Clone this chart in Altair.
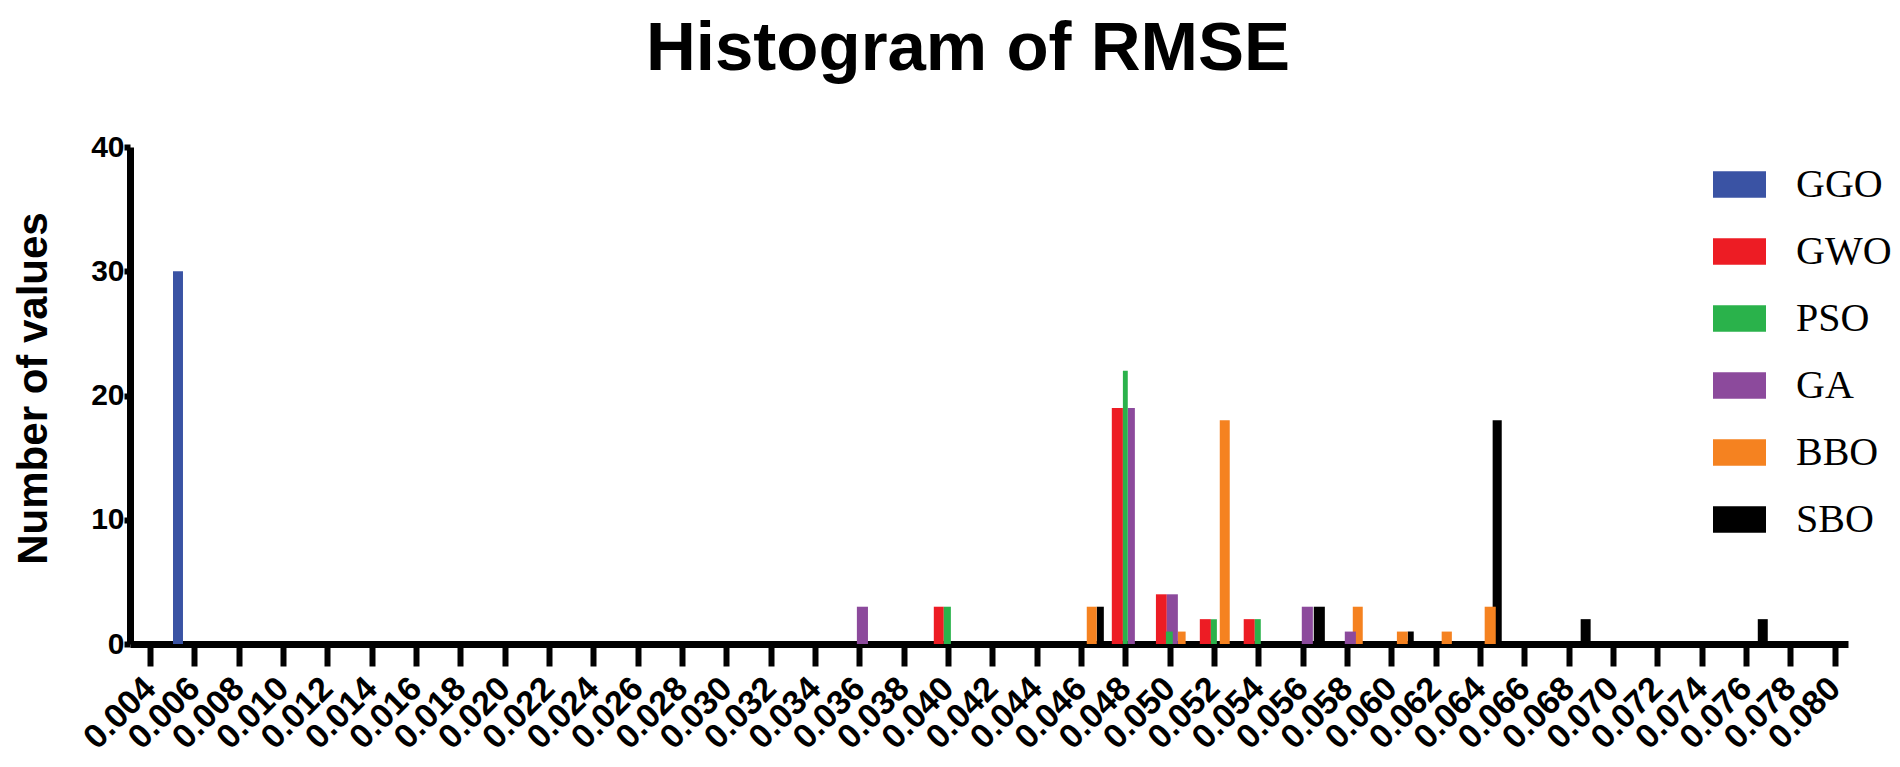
import altair as alt
import pandas as pd

# Series (legend order) and colours
series_names = ["GGO", "GWO", "PSO", "GA", "BBO", "SBO"]
series_colors = ["#3A53A4", "#ED1C24", "#2AB24B", "#8C4A9C", "#F58220", "#000000"]
# drawing order (later drawn on top)
draw_rank = {"GGO": 0, "GWO": 1, "SBO": 2, "BBO": 3, "GA": 4, "PSO": 5}

# Histogram bars: series, bin start, bin end, count
bar_series = ["GGO",
              "GA", "GWO", "PSO",
              "BBO", "SBO", "GWO", "PSO", "GA",
              "GWO", "PSO", "GA", "BBO",
              "GWO", "PSO", "BBO",
              "GWO", "PSO",
              "GA", "SBO",
              "GA", "BBO",
              "BBO", "SBO",
              "BBO",
              "BBO", "SBO",
              "SBO", "SBO"]
bin_start = [0.00504,
             0.03589, 0.03936, 0.03981,
             0.04626, 0.04671, 0.04739, 0.04789, 0.04811,
             0.04938, 0.04983, 0.04987, 0.05037,
             0.05136, 0.05186, 0.05226,
             0.05334, 0.05384,
             0.05596, 0.05650,
             0.05790, 0.05826,
             0.06025, 0.06074,
             0.06227,
             0.06421, 0.06457,
             0.06854, 0.07653]
bin_end = [0.00549,
           0.03639, 0.03981, 0.04013,
           0.04671, 0.04703, 0.04789, 0.04811, 0.04843,
           0.04987, 0.05014, 0.05037, 0.05072,
           0.05186, 0.05213, 0.05271,
           0.05384, 0.05411,
           0.05646, 0.05700,
           0.05840, 0.05871,
           0.06074, 0.06101,
           0.06273,
           0.06471, 0.06498,
           0.06899, 0.07698]
counts = [30,
          3, 3, 3,
          3, 3, 19, 22, 19,
          4, 1, 4, 1,
          2, 2, 18,
          2, 2,
          3, 3,
          1, 3,
          1, 1,
          1,
          3, 18,
          2, 2]

x_ticks = [0.004, 0.006, 0.008, 0.010, 0.012, 0.014, 0.016, 0.018, 0.020,
           0.022, 0.024, 0.026, 0.028, 0.030, 0.032, 0.034, 0.036, 0.038,
           0.040, 0.042, 0.044, 0.046, 0.048, 0.050, 0.052, 0.054, 0.056,
           0.058, 0.060, 0.062, 0.064, 0.066, 0.068, 0.070, 0.072, 0.074,
           0.076, 0.078, 0.080]
y_ticks = [0, 10, 20, 30, 40]

df = pd.DataFrame({
    "series": bar_series,
    "start": bin_start,
    "end": bin_end,
    "count": counts,
})
df["z"] = df["series"].map(draw_rank)

bars = alt.Chart(df).mark_bar(strokeWidth=0, opacity=1).encode(
    x=alt.X("start:Q",
            scale=alt.Scale(domain=[0.0031, 0.0806], nice=False, zero=False),
            axis=alt.Axis(values=x_ticks, format=".3f", title=None,
                          labelAngle=-45, labelAlign="right", labelBaseline="middle",
                          labelFont="Liberation Sans", labelFontWeight="bold",
                          labelFontSize=34, labelColor="black", labelPadding=17,
                          labelOverlap=False, labelFlush=False,
                          domainColor="black", domainWidth=7,
                          tickColor="black", tickWidth=6, tickSize=22,
                          grid=False)),
    x2="end:Q",
    y=alt.Y("count:Q", stack=None,
            scale=alt.Scale(domain=[0, 40], nice=False),
            axis=alt.Axis(values=y_ticks, title="Number of values",
                          titleFont="Liberation Sans", titleFontWeight="bold",
                          titleFontSize=42, titleColor="black",
                          titleAngle=-90, titleX=-84, titleY=241,
                          titleAlign="center", titleBaseline="alphabetic",
                          labelFont="Liberation Sans Narrow, Liberation Sans",
                          labelFontWeight="bold",
                          labelFontSize=30, labelColor="black", labelPadding=0,
                          domainColor="black", domainWidth=7,
                          tickColor="black", tickWidth=6, tickSize=6,
                          grid=False)),
    y2=alt.datum(0),
    color=alt.Color("series:N",
                    scale=alt.Scale(domain=series_names, range=series_colors),
                    legend=alt.Legend(title=None, orient="none",
                                      legendX=1583, legendY=11,
                                      symbolType="M-1,-0.5H1V0.5H-1Z",
                                      symbolSize=2809, symbolStrokeWidth=0,
                                      symbolOpacity=1,
                                      labelFont="Liberation Serif",
                                      labelFontSize=40, labelColor="black",
                                      labelOffset=30, rowPadding=20,
                                      padding=0)),
    order=alt.Order("z:Q"),
)

chart = bars.properties(
    width=1718,
    height=497,
    padding={"left": 122, "top": 139, "right": 44, "bottom": 118},
    autosize=alt.AutoSizeParams(type="none"),
    title=alt.Title("Histogram of RMSE", font="Liberation Sans",
                    fontSize=69, fontWeight="bold", color="black",
                    anchor="middle", dx=-21, offset=48),
).configure(background="white").configure_view(stroke=None)

chart.save("out.html", embed_options={"renderer": "svg", "actions": False})
